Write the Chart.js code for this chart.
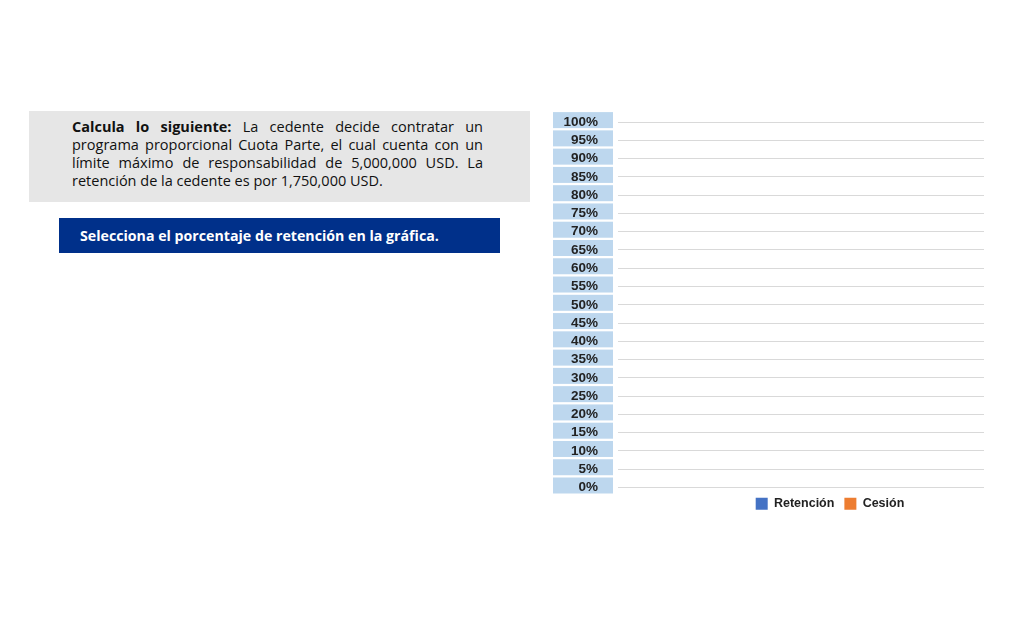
<!DOCTYPE html>
<html><head><meta charset="utf-8">
<script src="https://cdn.jsdelivr.net/npm/chart.js@4/dist/chart.umd.min.js"></script>
<style>
html,body{margin:0;padding:0;width:1024px;height:620px;overflow:hidden;background:#fff;}
#box{position:absolute;left:29px;top:111px;width:501px;height:91px;background:#e6e6e6;}
#txt{position:absolute;left:72px;top:118px;width:411px;font-family:"Open Sans",sans-serif;font-size:14.5px;line-height:18px;color:#111;text-align:justify;text-align-last:left;}
#banner{position:absolute;left:59px;top:218px;width:441px;height:35px;background:#00308a;}
#btxt{position:absolute;left:80px;top:226px;font-family:"Open Sans",sans-serif;font-weight:bold;font-size:14.2px;color:#fff;}
#wrap{position:absolute;left:545px;top:94px;width:570px;height:432px;}
</style></head><body>
<div id="box"></div>
<div id="txt"><b>Calcula lo siguiente:</b> La cedente decide contratar un programa proporcional Cuota Parte, el cual cuenta con un límite máximo de responsabilidad de 5,000,000 USD. La retención de la cedente es por 1,750,000 USD.</div>
<div id="banner"></div>
<div id="btxt">Selecciona el porcentaje de retención en la gráfica.</div>
<div id="wrap"><canvas id="c"></canvas></div>
<script>
const categories = [''];
const retencion = [null];
const cesion = [null];
const seriesNames = ['Retención', 'Cesión'];
const tickStep = 5;

const boxPlugin = {
  id: 'tickBoxes',
  beforeDraw(chart) {
    const s = chart.scales.y, ctx = chart.ctx;
    ctx.save();
    ctx.fillStyle = '#bdd7ee';
    s.ticks.forEach(t => {
      const y = s.getPixelForValue(t.value);
      ctx.fillRect(s.right - 65, y - 10, 60, 16);
    });
    ctx.restore();
  }
};

new Chart(document.getElementById('c'), {
  type: 'bar',
  data: {
    labels: categories,
    datasets: [
      {label: seriesNames[0], data: retencion, backgroundColor: '#4472c4'},
      {label: seriesNames[1], data: cesion, backgroundColor: '#ed7d31'}
    ]
  },
  options: {
    responsive: true, maintainAspectRatio: false, animation: false,
    layout: {padding: {top: 0, right: 0, bottom: 6}},
    scales: {
      x: {stacked: true, display: false},
      y: {
        stacked: true, min: 0, max: 100,
        afterFit(s) { s.width = 73; },
        border: {display: false},
        grid: {color: '#d9d9d9', drawTicks: false, lineWidth: 1},
        ticks: {stepSize: tickStep, autoSkip: false, padding: 20, color: '#222',
          font: {family: '"Liberation Sans", Arial, sans-serif', weight: 'bold', size: 13.5},
          callback: v => v + '%'}
      },
      y2: {
        position: 'right', min: 0, max: 100, display: true,
        afterFit(s) { s.width = 131; },
        border: {display: false},
        grid: {display: false},
        ticks: {display: false}
      }
    },
    plugins: {
      legend: {position: 'bottom',
        labels: {boxWidth: 12, boxHeight: 12, padding: 10, color: '#222',
          font: {family: '"Liberation Sans", Arial, sans-serif', weight: 'bold', size: 12.5}}},
      tooltip: {enabled: false}
    }
  },
  plugins: [boxPlugin]
});
</script>
</body></html>
